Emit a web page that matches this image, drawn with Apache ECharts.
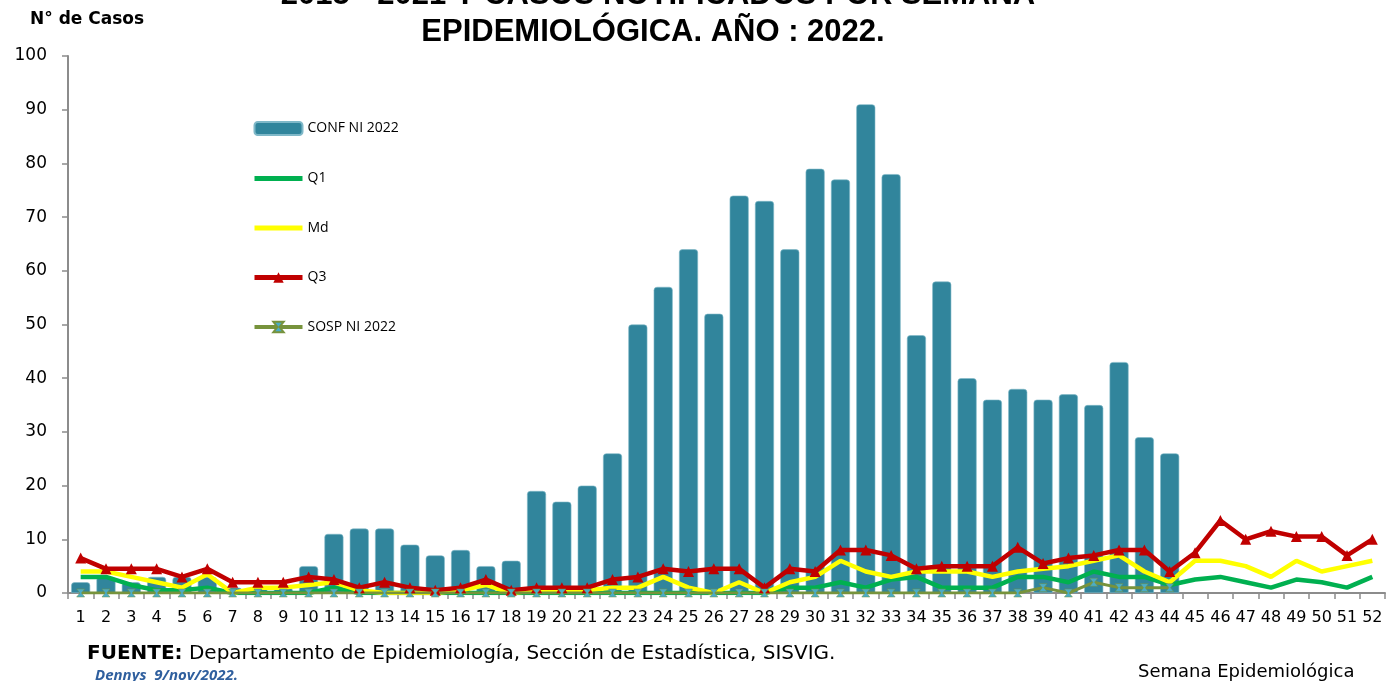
<!DOCTYPE html>
<html>
<head>
<meta charset="utf-8">
<script src="https://cdn.jsdelivr.net/npm/echarts@6/dist/echarts.min.js"></script>
<style>
html,body{margin:0;padding:0;background:#fff;}
#chart{width:1387px;height:681px;}
</style>
</head>
<body>
<div id="chart"></div>
<script>
// ---- data ----
var weeks = ['1','2','3','4','5','6','7','8','9','10','11','12','13','14','15','16','17','18','19','20','21','22','23','24','25','26','27','28','29','30','31','32','33','34','35','36','37','38','39','40','41','42','43','44','45','46','47','48','49','50','51','52'];
var confNI2022 = [2,3,2,3,3,3,1,1,1,5, 11,12,12,9,7,8,5,6,19,17, 20,26,50,57,64,52,74,73,64,79, 77,91,78,48,58,40,36,38,36,37, 35,43,29,26];
var q1 = [3,3,1.5,0.5,0.5,1,0,0,0,0, 1,0,0,0,0,0,0,0,0,0, 0,0,0,0,0,0,0,0,1,1, 2,1,2.5,3,1,1,1,3,3,2, 4,3,3,1.5,2.5,3,2,1,2.5,2,1,3];
var md = [4,4,3,2,1,3.5,0,1,1,1.5, 2,0.5,0,0,0,0.5,1.5,0,0.5,0.5, 0.5,1,1,3,1,0,2,0,2,3, 6,4,3,4,4,4,3,4,4.5,5, 6,7,4,2,6,6,5,3,6,4,5,6];
var q3 = [6.5,4.5,4.5,4.5,3,4.5,2,2,2,3, 2.5,1,2,1,0.5,1,2.5,0.5,1,1, 1,2.5,3,4.5,4,4.5,4.5,1,4.5,4, 8,8,7,4.5,5,5,5,8.5,5.5,6.5, 7,8,8,4,7.5,13.5,10,11.5,10.5,10.5,7,10];
var sospNI2022 = [0,0,0,0,0,0,0,0,0,0, 0,0,0,0,0,0,0,0,0,0, 0,0,0,0,0,0,0,0,0,0, 0,0,0,0,0,0,0,0,1,0, 2,1,1,1];
var titleLines = ['2015 - 2021 Y CASOS NOTIFICADOS POR SEMANA', 'EPIDEMIOLÓGICA. AÑO : 2022.'];

var chart = echarts.init(document.getElementById('chart'), null, {renderer:'canvas'});
var axisGray = '#8c8c8c';
var lineIcon = 'path://M0,0L48,0L48,5L0,5Z';
var option = {
  animation: false,
  backgroundColor: '#ffffff',
  grid: {left: 68, right: 2, top: 56, bottom: 88, containLabel: false},
  graphic: [
    {type:'text', style:{text:titleLines[0], x:658, y:-5, align:'center', verticalAlign:'middle', font:'bold 31px "Liberation Sans", Arial, sans-serif', fill:'#000'}},
    {type:'text', style:{text:titleLines[1], x:653, y:32, align:'center', verticalAlign:'middle', font:'bold 31px "Liberation Sans", Arial, sans-serif', fill:'#000'}},
    {type:'text', style:{text:'N° de Casos', x:30, y:20, align:'left', verticalAlign:'middle', font:'bold 17px "DejaVu Sans", sans-serif', fill:'#000'}},
    {type:'text', style:{text:'Semana Epidemiológica', x:1138, y:672, align:'left', verticalAlign:'middle', font:'18px "DejaVu Sans", sans-serif', fill:'#000'}},
    {type:'text', style:{
      text:'{b|FUENTE:} Departamento de Epidemiología, Sección de Estadística, SISVIG.', x:87, y:654, align:'left', verticalAlign:'middle',
      font:'20px "DejaVu Sans", sans-serif', fill:'#000',
      rich:{b:{fontWeight:'bold', fontSize:20, fontFamily:'"DejaVu Sans", sans-serif', fill:'#000'}}
    }},
    {type:'text', style:{text:'Dennys  9/nov/2022.', x:95, y:676, align:'left', verticalAlign:'middle', font:'italic bold 15px "Open Sans", sans-serif', fill:'#2F5F9E'}}
  ],
  legend: {
    orient: 'vertical', left: 252, top: 121, padding: 0,
    itemWidth: 48, itemHeight: 13, itemGap: 35.5, itemTextGap: 4,
    textStyle: {fontFamily:'"Open Sans", sans-serif', fontSize: 14, color:'#000'},
    data: [
      {name:'CONF NI 2022', icon:'roundRect'},
      {name:'Q1', icon: lineIcon, itemStyle:{color:'#00B050'}},
      {name:'Md', icon: lineIcon, itemStyle:{color:'#FFFF00'}},
      {name:'Q3', lineStyle:{width:5}},
      {name:'SOSP NI 2022', lineStyle:{width:4}}
    ]
  },
  xAxis: {
    type: 'category', data: weeks, boundaryGap: true,
    axisLine: {lineStyle:{color:axisGray, width:2}},
    axisTick: {show:true, length:6, lineStyle:{color:axisGray, width:1.5}, alignWithLabel:false},
    axisLabel: {interval:0, color:'#000', fontFamily:'"DejaVu Sans", sans-serif', fontSize:16, margin:17}
  },
  yAxis: {
    type: 'value', min: 0, max: 100, interval: 10,
    splitLine: {show:false},
    axisLine: {show:true, lineStyle:{color:axisGray, width:2}},
    axisTick: {show:true, length:6, lineStyle:{color:axisGray, width:1.5}},
    axisLabel: {color:'#000', fontFamily:'"DejaVu Sans", sans-serif', fontSize:17, margin:21}
  },
  series: [
    {name:'CONF NI 2022', type:'bar', data:confNI2022, barCategoryGap:'25%',
     itemStyle:{color:'#31859C', borderRadius:[3,3,0,0], borderColor:'#7fb8c8', borderWidth:0.6}},
    {name:'Q1', type:'line', data:q1, symbol:'none', lineStyle:{color:'#00B050', width:4.5}, itemStyle:{color:'#00B050'}},
    {name:'Md', type:'line', data:md, symbol:'none', lineStyle:{color:'#FFFF00', width:4.5}, itemStyle:{color:'#FFFF00'}},
    {name:'Q3', type:'line', data:q3, symbol:'triangle', symbolSize:11, lineStyle:{color:'#C00000', width:4.5}, itemStyle:{color:'#C00000'}},
    {name:'SOSP NI 2022', type:'line', data:sospNI2022, symbol:'path://M0,0L10,0L6,5L10,10L0,10L4,5Z', symbolSize:8,
     lineStyle:{color:'#77933C', width:3}, itemStyle:{color:'#4BACC6', borderColor:'#77933C', borderWidth:0.5}}
  ]
};
chart.setOption(option);
</script>
</body>
</html>
